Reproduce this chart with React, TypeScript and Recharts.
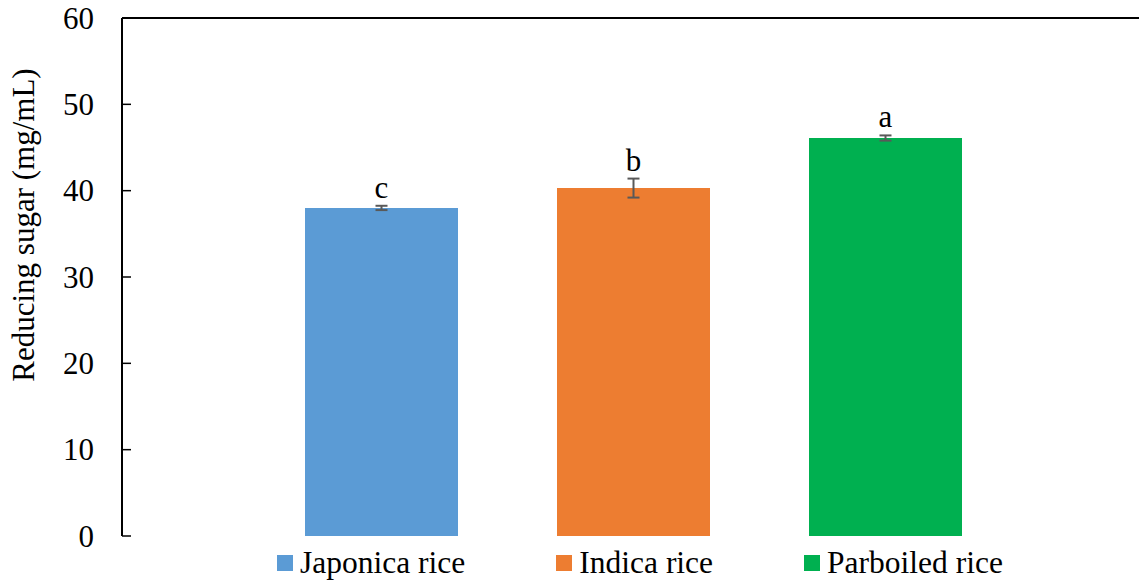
import React from "react"
import { BarChart, Bar, XAxis, YAxis, ErrorBar, ReferenceLine, LabelList } from "recharts"

// values
const seriesNames = ["Japonica rice", "Indica rice", "Parboiled rice"]
const seriesKeys = ["japonica", "indica", "parboiled"]
const seriesColors = ["#5B9BD5", "#ED7D31", "#00B050"]
const sugarValues = [38.0, 40.3, 46.1]
const sugarErrors = [0.25, 1.1, 0.3]
const sigLetters = ["c", "b", "a"]
const yTicks = [0, 10, 20, 30, 40, 50, 60]

const W = 1139
const H = 581
const PLOT_LEFT = 122
const FONT = '"Liberation Serif", "Times New Roman", serif'

const row: Record<string, any> = { group: "" }
seriesKeys.forEach((k, i) => {
  row[k] = sugarValues[i]
  row[k + "Err"] = sugarErrors[i]
})
const data = [row]

const YTick = (props: any) => {
  const { x, y, payload } = props
  return (
    <g>
      <line x1={PLOT_LEFT} x2={PLOT_LEFT + 9} y1={y} y2={y} stroke="#000" strokeWidth={1.5} />
      <text x={x} y={y} dy={10.5} textAnchor="end" fontSize={31} fontFamily={FONT} fill="#000">
        {payload.value}
      </text>
    </g>
  )
}

const makeLetter = (i: number) => (props: any) => {
  const { x, y, width, height } = props
  const errPx = (sugarErrors[i] / sugarValues[i]) * height
  return (
    <text
      x={x + width / 2}
      y={y - errPx - 8}
      textAnchor="middle"
      fontSize={31}
      fontFamily={FONT}
      fill="#000"
    >
      {sigLetters[i]}
    </text>
  )
}

export default function App() {
  return (
    <div style={{ position: "absolute", left: 0, top: 0, width: W, height: H, background: "#fff", fontFamily: FONT }}>
      <BarChart
        width={W}
        height={H}
        data={data}
        margin={{ top: 18, right: 0, bottom: 45, left: 0 }}
        barSize={153}
        barGap={99}
      >
        <XAxis
          dataKey="group"
          tick={false}
          tickLine={false}
          height={0}
          padding={{ left: 6, right: 0 }}
          axisLine={{ stroke: "#000", strokeWidth: 2 }}
        />
        <YAxis
          width={PLOT_LEFT}
          domain={[0, 60]}
          ticks={yTicks}
          interval={0}
          tickSize={0}
          tickMargin={28}
          tick={<YTick />}
          axisLine={{ stroke: "#000", strokeWidth: 2 }}
          label={{
            content: () => (
              <text
                transform="translate(34,225) rotate(-90)"
                textAnchor="middle"
                fontSize={31}
                fontFamily={FONT}
                fill="#000"
              >
                Reducing sugar (mg/mL)
              </text>
            ),
          }}
        />
        <ReferenceLine y={60} stroke="#000" strokeWidth={2} />
        {seriesKeys.map((k, i) => (
          <Bar key={k} dataKey={k} name={seriesNames[i]} fill={seriesColors[i]} isAnimationActive={false}>
            <ErrorBar dataKey={k + "Err"} width={6} stroke="#595959" strokeWidth={2} isAnimationActive={false} />
            <LabelList dataKey={k} content={makeLetter(i)} />
          </Bar>
        ))}
      </BarChart>
      <div
        style={{
          position: "absolute",
          left: 277,
          top: 545,
          display: "flex",
          alignItems: "center",
          gap: 91,
          fontFamily: FONT,
          fontSize: 31.5,
          whiteSpace: "nowrap",
          lineHeight: "36px",
        }}
      >
        {seriesNames.map((n, i) => (
          <div key={n} style={{ display: "flex", alignItems: "center" }}>
            <span style={{ width: 16, height: 16, background: seriesColors[i], marginRight: 7, display: "inline-block" }} />
            <span>{n}</span>
          </div>
        ))}
      </div>
    </div>
  )
}
